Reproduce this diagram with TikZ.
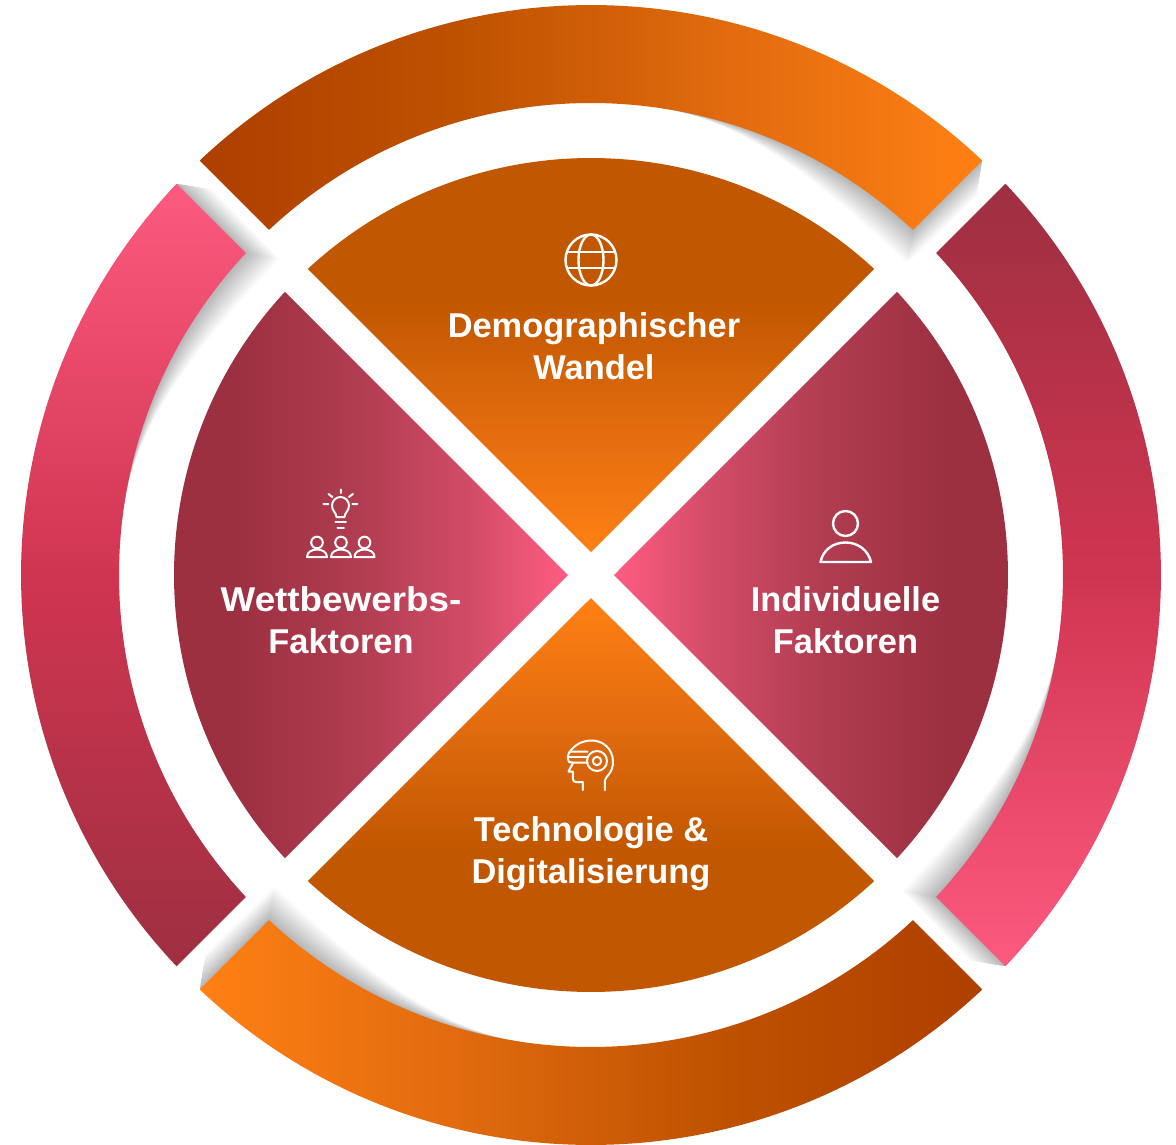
\documentclass[tikz,border=0pt]{standalone}
\usepackage{fontspec}
\setmainfont{Liberation Sans}
\definecolor{oA}{HTML}{AE3F00}
\definecolor{oB}{HTML}{BF5200}
\definecolor{oC}{HTML}{E06A0E}
\definecolor{oD}{HTML}{FF8014}
\definecolor{oE}{HTML}{C15700}
\definecolor{rA}{HTML}{9B2F40}
\definecolor{rB}{HTML}{D03550}
\definecolor{rC}{HTML}{FF5C82}
\definecolor{rD}{HTML}{9C3040}
\definecolor{rE}{HTML}{B03C50}
\definecolor{rF}{HTML}{D34C68}
\pgfdeclarehorizontalshading{ringT}{100bp}{color(0bp)=(oA);color(25bp)=(oA);color(42bp)=(oB);color(58bp)=(oC);color(75bp)=(oD);color(100bp)=(oD)}
\pgfdeclarehorizontalshading{ringB}{100bp}{color(0bp)=(oD);color(25bp)=(oD);color(42bp)=(oC);color(58bp)=(oB);color(75bp)=(oA);color(100bp)=(oA)}
\pgfdeclareverticalshading{ringR}{100bp}{color(0bp)=(rC);color(25bp)=(rC);color(50bp)=(rB);color(75bp)=(rA);color(100bp)=(rA)}
\pgfdeclareverticalshading{ringL}{100bp}{color(0bp)=(rA);color(25bp)=(rA);color(50bp)=(rB);color(75bp)=(rC);color(100bp)=(rC)}
\pgfdeclareverticalshading{secT}{100bp}{color(0bp)=(oD);color(25bp)=(oD);color(42bp)=(oC);color(57bp)=(oE);color(75bp)=(oE);color(100bp)=(oE)}
\pgfdeclareverticalshading{secB}{100bp}{color(0bp)=(oE);color(25bp)=(oE);color(43bp)=(oE);color(58bp)=(oC);color(75bp)=(oD);color(100bp)=(oD)}
\pgfdeclarehorizontalshading{secL}{100bp}{color(0bp)=(rD);color(25bp)=(rD);color(33bp)=(rD);color(48bp)=(rE);color(63bp)=(rF);color(75bp)=(rC);color(100bp)=(rC)}
\pgfdeclarehorizontalshading{secR}{100bp}{color(0bp)=(rC);color(25bp)=(rC);color(37bp)=(rF);color(52bp)=(rE);color(67bp)=(rD);color(75bp)=(rD);color(100bp)=(rD)}
\def\ringpath{(46.64:570) arc[start angle=46.64,end angle=133.36,radius=570] -- (133.02:472) arc[start angle=133.02,end angle=46.98,radius=472] -- cycle}
\def\secpath{(0,23) -- (47.23:417) arc[start angle=47.23,end angle=132.77,radius=417] -- cycle}
\tikzset{
  lbl/.style={text=white,font=\bfseries\fontsize{34.4}{42}\selectfont,align=center,inner sep=0pt},
  icon/.style={draw=white,line width=2.4pt,line cap=round,line join=round}
}
\begin{document}
\begin{tikzpicture}[x=1pt,y=1pt]
\useasboundingbox[fill=white] (-591,-569) rectangle (585,575);
% shadows: stacked faint layers, rotated to each ring segment
\foreach \k in {0,1,2,3}{
  \begin{scope}[rotate=-90*\k]
  \foreach \t in {1,...,36}{
    \pgfmathsetmacro{\ax}{391.4-6*\t/36}
    \pgfmathsetmacro{\ay}{414.4-36*\t/36}
    \pgfmathsetmacro{\ix}{322-6*\t/36}
    \pgfmathsetmacro{\iy}{345-34*\t/36}
    \fill[black,fill opacity=0.009] (46.64:570) -- (\ax,\ay) -- (\ix,\iy)
      .. controls (\ix-69,\iy+65) and (163,453) .. (69,467) -- (81.6:520) -- cycle;
  }
  \end{scope}
}
% outer ring
\begin{scope}\clip \ringpath; \shade[shading=ringT] (-392,340) rectangle (392,575);\end{scope}
\begin{scope}\clip[rotate=-90] \ringpath; \shade[shading=ringR] (340,-415) rectangle (575,415);\end{scope}
\begin{scope}\clip[rotate=180] \ringpath; \shade[shading=ringB] (-392,-575) rectangle (392,-340);\end{scope}
\begin{scope}\clip[rotate=90] \ringpath; \shade[shading=ringL] (-575,-415) rectangle (-340,415);\end{scope}
% inner sectors
\begin{scope}\clip \secpath; \shade[shading=secT] (-290,23) rectangle (290,417);\end{scope}
\begin{scope}\clip[rotate=-90] \secpath; \shade[shading=secR] (23,-290) rectangle (417,290);\end{scope}
\begin{scope}\clip[rotate=180] \secpath; \shade[shading=secB] (-290,-417) rectangle (290,-23);\end{scope}
\begin{scope}\clip[rotate=90] \secpath; \shade[shading=secL] (-417,-290) rectangle (-23,290);\end{scope}
% px coordinates for icons and labels
\begin{scope}[shift={(-591,575)},yscale=-1]
  \node[lbl] (demo) at (594,346) {Demographischer\\Wandel};
  \node[lbl] (wett) at (341,620) {{\addfontfeature{FakeStretch=1.07}Wettbewerbs-}\\Faktoren};
  \node[lbl] (indi) at (845.5,620) {Individuelle\\Faktoren};
  \node[lbl] (tech) at (591,854) {Technologie \&\\Digitalisierung};
  % globe
  \draw[icon] (591,260) circle[radius=25.5];
  \draw[icon] (591,260) ellipse[x radius=12.5,y radius=25.5];
  \draw[icon] (567,252) -- (615,252) (567,268) -- (615,268);
  % bulb + people
  \begin{scope}[icon,line width=2pt]
    \draw (336.5,517) .. controls (336,512) and (332,511) .. (332,505.5) arc[start angle=180,end angle=360,radius=8.5] .. controls (349,511) and (345,512) .. (344.5,517) -- cycle;
    \draw (335.5,522) -- (346,522) (337.5,528) -- (344,528);
    \draw (341,489.5) -- (341,493) (328.5,494) -- (332.5,497) (353,494) -- (349,497) (323.5,504) -- (328.5,504) (352.5,504) -- (357.5,504);
    \foreach \x in {317,341,364.5}{
      \draw (\x,542.5) circle[radius=5.8];
      \draw (\x-10,557) .. controls (\x-10,552) and (\x-5,549.5) .. (\x,549.5) .. controls (\x+5,549.5) and (\x+10,552) .. (\x+10,557) -- cycle;
    }
  \end{scope}
  % person
  \draw[icon] (845.5,523.5) circle[radius=12.5];
  \draw[icon] (820.5,562) .. controls (823,550) and (833,542.5) .. (845.5,542.5) .. controls (858,542.5) and (868,550) .. (871,562) -- cycle;
  % VR head
  \begin{scope}[icon,line width=2pt]
    \draw (605,790) -- (605,780) .. controls (606,776) and (613,773) .. (613,762) .. controls (613,748) and (602,740.5) .. (592,740.5) .. controls (582,740.5) and (574,745) .. (569,753);
    \draw (587.5,751.5) -- (573,751.5) .. controls (569,751.5) and (568,753) .. (568,756) -- (568,759) .. controls (568,762) and (569,762.5) .. (573,762.5) -- (587.5,762.5);
    \draw (568,757) -- (587,757);
    \draw (597,761) circle[radius=10];
    \draw (597,761) circle[radius=4.2];
    \draw (573,763) -- (568.5,771.5) -- (573,771.5) -- (573,779) .. controls (573,781) and (574,782) .. (576,782) -- (583,782) -- (583,790);
  \end{scope}
\end{scope}
\end{tikzpicture}
\end{document}
